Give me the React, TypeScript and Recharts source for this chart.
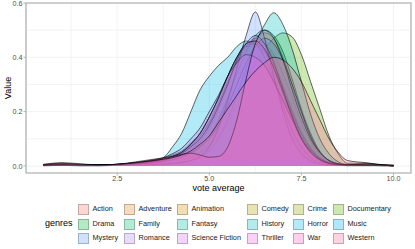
import React from "react";
import { AreaChart, Area, XAxis, YAxis, CartesianGrid, ReferenceArea, Label } from "recharts";

// vote average grid the densities were read at
const voteX = [0.5, 1, 1.5, 2, 2.5, 3, 3.5, 3.75, 4, 4.25, 4.5, 4.75, 5, 5.25, 5.5, 5.75, 6, 6.25, 6.5, 6.75, 7, 7.25, 7.5, 7.75, 8, 8.25, 8.5, 8.75, 9.25, 9.75, 10];

const action = [0.004, 0.008, 0.004, 0.003, 0.005, 0.01, 0.02, 0.025, 0.035, 0.05, 0.08, 0.12, 0.18, 0.25, 0.33, 0.4, 0.45, 0.46, 0.43, 0.37, 0.29, 0.2, 0.12, 0.065, 0.03, 0.012, 0.005, 0.003, 0.004, 0.002, 0.001];
const adventure = [0.004, 0.006, 0.004, 0.003, 0.004, 0.008, 0.015, 0.02, 0.03, 0.045, 0.07, 0.1, 0.15, 0.22, 0.3, 0.38, 0.44, 0.47, 0.45, 0.39, 0.3, 0.21, 0.13, 0.07, 0.03, 0.012, 0.005, 0.003, 0.004, 0.002, 0.001];
const animation = [0.003, 0.004, 0.003, 0.002, 0.003, 0.006, 0.012, 0.018, 0.028, 0.04, 0.06, 0.09, 0.14, 0.21, 0.3, 0.39, 0.44, 0.46, 0.45, 0.41, 0.34, 0.25, 0.16, 0.09, 0.04, 0.015, 0.006, 0.003, 0.003, 0.002, 0.001];
const comedy = [0.005, 0.01, 0.006, 0.004, 0.006, 0.012, 0.022, 0.028, 0.04, 0.055, 0.085, 0.12, 0.18, 0.25, 0.33, 0.4, 0.44, 0.44, 0.41, 0.35, 0.27, 0.19, 0.12, 0.065, 0.03, 0.012, 0.006, 0.004, 0.008, 0.003, 0.002];
const crime = [0.002, 0.003, 0.002, 0.002, 0.003, 0.005, 0.01, 0.014, 0.02, 0.03, 0.045, 0.07, 0.11, 0.17, 0.25, 0.34, 0.42, 0.47, 0.49, 0.47, 0.4, 0.3, 0.2, 0.11, 0.05, 0.02, 0.007, 0.003, 0.002, 0.002, 0.001];
const documentary = [0.002, 0.003, 0.002, 0.002, 0.003, 0.005, 0.008, 0.01, 0.015, 0.022, 0.032, 0.05, 0.075, 0.11, 0.16, 0.23, 0.31, 0.38, 0.43, 0.47, 0.49, 0.475, 0.41, 0.31, 0.21, 0.11, 0.045, 0.01, 0.01, 0.003, 0.002];
const drama = [0.003, 0.005, 0.003, 0.002, 0.004, 0.008, 0.014, 0.018, 0.025, 0.035, 0.05, 0.075, 0.11, 0.17, 0.25, 0.34, 0.42, 0.48, 0.5, 0.48, 0.42, 0.32, 0.21, 0.12, 0.055, 0.02, 0.008, 0.004, 0.008, 0.003, 0.002];
const family = [0.004, 0.006, 0.004, 0.003, 0.005, 0.01, 0.018, 0.024, 0.035, 0.05, 0.075, 0.11, 0.16, 0.23, 0.31, 0.38, 0.43, 0.45, 0.43, 0.37, 0.29, 0.2, 0.12, 0.065, 0.03, 0.012, 0.005, 0.003, 0.003, 0.002, 0.001];
const fantasy = [0.003, 0.005, 0.004, 0.003, 0.005, 0.01, 0.018, 0.024, 0.035, 0.05, 0.08, 0.12, 0.18, 0.25, 0.33, 0.4, 0.44, 0.45, 0.42, 0.36, 0.28, 0.19, 0.11, 0.06, 0.028, 0.011, 0.005, 0.003, 0.002, 0.002, 0.001];
const history = [0.001, 0.002, 0.001, 0.001, 0.002, 0.003, 0.006, 0.008, 0.01, 0.014, 0.02, 0.03, 0.055, 0.1, 0.17, 0.26, 0.36, 0.45, 0.52, 0.564, 0.52, 0.43, 0.31, 0.19, 0.1, 0.045, 0.015, 0.005, 0.002, 0.001, 0.001];
const horror = [0.003, 0.004, 0.004, 0.004, 0.006, 0.012, 0.02, 0.03, 0.07, 0.12, 0.2, 0.28, 0.33, 0.37, 0.4, 0.44, 0.46, 0.45, 0.4, 0.32, 0.22, 0.13, 0.07, 0.03, 0.012, 0.005, 0.003, 0.002, 0.002, 0.001, 0.001];
const music = [0.002, 0.003, 0.002, 0.002, 0.003, 0.006, 0.012, 0.016, 0.022, 0.032, 0.048, 0.07, 0.1, 0.15, 0.22, 0.3, 0.38, 0.44, 0.47, 0.45, 0.39, 0.3, 0.2, 0.11, 0.05, 0.02, 0.007, 0.003, 0.002, 0.002, 0.001];
const mystery = [0.001, 0.002, 0.001, 0.001, 0.002, 0.003, 0.005, 0.006, 0.008, 0.012, 0.02, 0.035, 0.07, 0.14, 0.24, 0.36, 0.48, 0.567, 0.47, 0.33, 0.2, 0.1, 0.045, 0.018, 0.007, 0.003, 0.002, 0.001, 0.001, 0.001, 0.001];
const romance = [0.003, 0.004, 0.003, 0.002, 0.004, 0.008, 0.014, 0.02, 0.03, 0.045, 0.07, 0.1, 0.15, 0.22, 0.3, 0.39, 0.45, 0.48, 0.45, 0.38, 0.28, 0.18, 0.1, 0.05, 0.022, 0.009, 0.004, 0.003, 0.002, 0.002, 0.001];
const scienceFiction = [0.004, 0.007, 0.005, 0.004, 0.006, 0.012, 0.022, 0.03, 0.045, 0.065, 0.1, 0.14, 0.2, 0.26, 0.33, 0.38, 0.41, 0.4, 0.37, 0.31, 0.24, 0.17, 0.1, 0.055, 0.025, 0.01, 0.005, 0.003, 0.002, 0.002, 0.001];
const thriller = [0.003, 0.005, 0.004, 0.003, 0.005, 0.01, 0.018, 0.024, 0.035, 0.05, 0.08, 0.12, 0.18, 0.25, 0.33, 0.4, 0.45, 0.46, 0.43, 0.36, 0.27, 0.18, 0.1, 0.05, 0.022, 0.009, 0.004, 0.003, 0.002, 0.002, 0.001];
const war = [0.002, 0.003, 0.003, 0.003, 0.006, 0.015, 0.025, 0.03, 0.035, 0.042, 0.047, 0.04, 0.032, 0.035, 0.07, 0.17, 0.32, 0.45, 0.5, 0.47, 0.39, 0.28, 0.18, 0.1, 0.05, 0.02, 0.008, 0.004, 0.003, 0.002, 0.001];
const western = [0.006, 0.012, 0.008, 0.004, 0.006, 0.012, 0.02, 0.025, 0.03, 0.04, 0.055, 0.08, 0.11, 0.16, 0.21, 0.26, 0.31, 0.35, 0.38, 0.4, 0.39, 0.36, 0.31, 0.24, 0.17, 0.1, 0.05, 0.02, 0.012, 0.004, 0.003];

const genres = ["Action", "Adventure", "Animation", "Comedy", "Crime", "Documentary", "Drama", "Family", "Fantasy", "History", "Horror", "Music", "Mystery", "Romance", "Science Fiction", "Thriller", "War", "Western"];
const genreValues = [action, adventure, animation, comedy, crime, documentary, drama, family, fantasy, history, horror, music, mystery, romance, scienceFiction, thriller, war, western];
const genreColors = ["#F8766D", "#E9842C", "#D49200", "#B79F00", "#93AA00", "#5EB300", "#00BA38", "#00BF74", "#00C19F", "#00BFC4", "#00B9E3", "#00ADFA", "#619CFF", "#AE87FF", "#DB72FB", "#F564E3", "#FF61C3", "#FF699C"];

const xTicks = [1.25, 2.5, 3.75, 5, 6.25, 7.5, 8.75, 10];
const xMajor = [2.5, 5, 7.5, 10];
const yTicks = [0, 0.1, 0.2, 0.3, 0.4, 0.5, 0.6];
const yMajor = [0, 0.2, 0.4, 0.6];

const X_DOMAIN = [0.025, 10.475];
const Y_DOMAIN = [-0.026, 0.6];

const data = voteX.map((x, i) => {
  const row: Record<string, number> = { x };
  genres.forEach((g, k) => {
    row[g] = genreValues[k][i];
  });
  return row;
});

const FONT = '"Liberation Sans", Arial, sans-serif';

function XTick({ x, y, payload }: any) {
  if (!xMajor.includes(payload.value)) return null;
  return (
    <g>
      <line x1={x} x2={x} y1={y} y2={y + 2.5} stroke="#B3B3B3" strokeWidth={1} />
      <text x={x} y={y + 7.8} textAnchor="middle" fontSize={7.2} fill="#4D4D4D" fontFamily={FONT}>
        {payload.value.toFixed(1)}
      </text>
    </g>
  );
}

function YTick({ x, y, payload }: any) {
  if (!yMajor.includes(payload.value)) return null;
  return (
    <g>
      <line x1={x - 2.5} x2={x} y1={y} y2={y} stroke="#B3B3B3" strokeWidth={1} />
      <text x={x - 3.5} y={y + 2.6} textAnchor="end" fontSize={7.2} fill="#4D4D4D" fontFamily={FONT}>
        {payload.value.toFixed(1)}
      </text>
    </g>
  );
}

const legendCols = [78, 124, 177, 247, 293, 333];
const legendRows = [204, 218.5, 233];

function GenreLegend() {
  return (
    <div style={{ position: "absolute", left: 0, top: 0, width: 415, height: 249, pointerEvents: "none", fontFamily: FONT }}>
      <div style={{ position: "absolute", left: 45, top: 218, fontSize: 9, lineHeight: "11px", color: "#000" }}>genres</div>
      {genres.map((g, i) => {
        const col = i % 6;
        const row = Math.floor(i / 6);
        return (
          <div key={g}>
            <div
              style={{
                position: "absolute",
                left: legendCols[col],
                top: legendRows[row],
                width: 9,
                height: 9,
                background: genreColors[i] + "4D",
                border: "0.8px solid rgba(0,0,0,0.22)",
              }}
            />
            <div style={{ position: "absolute", left: legendCols[col] + 14.5, top: legendRows[row] + 0.3, fontSize: 7.3, lineHeight: "9px", color: "#1A1A1A", whiteSpace: "nowrap" }}>
              {g}
            </div>
          </div>
        );
      })}
    </div>
  );
}

export default function App() {
  return (
    <div style={{ position: "absolute", left: 0, top: 0, width: 415, height: 249, background: "#fff", fontFamily: FONT }}>
      <AreaChart width={415} height={249} data={data} margin={{ top: 3, right: 4, bottom: 56, left: 0 }}>
        <CartesianGrid stroke="#EBEBEB" strokeWidth={0.6} />
        <XAxis
          dataKey="x"
          type="number"
          domain={X_DOMAIN}
          allowDataOverflow
          ticks={xTicks}
          interval={0}
          tick={<XTick />}
          tickLine={false}
          axisLine={false}
          tickSize={0}
          tickMargin={0}
          height={20}
        >
          <Label value="vote average" position="insideBottom" offset={2} fontSize={9} fill="#000" fontFamily={FONT} />
        </XAxis>
        <YAxis
          type="number"
          domain={Y_DOMAIN}
          allowDataOverflow
          ticks={yTicks}
          interval={0}
          tick={<YTick />}
          tickLine={false}
          axisLine={false}
          tickSize={0}
          tickMargin={0}
          width={26}
        >
          <Label
            content={() => (
              <text x={10.5} y={88} transform="rotate(-90 10.5 88)" textAnchor="middle" fontSize={9} fill="#000" fontFamily={FONT}>
                Value
              </text>
            )}
          />
        </YAxis>
        {genres.map((g, i) => (
          <Area
            key={g}
            dataKey={g}
            type="monotone"
            fill={genreColors[i]}
            fillOpacity={0.3}
            stroke="#000"
            strokeWidth={0.6}
            isAnimationActive={false}
            dot={false}
            activeDot={false}
          />
        ))}
        <ReferenceArea x1={X_DOMAIN[0]} x2={X_DOMAIN[1]} y1={Y_DOMAIN[0]} y2={Y_DOMAIN[1]} fill="none" stroke="#A6A6A6" strokeWidth={1.1} />
      </AreaChart>
      <GenreLegend />
    </div>
  );
}
